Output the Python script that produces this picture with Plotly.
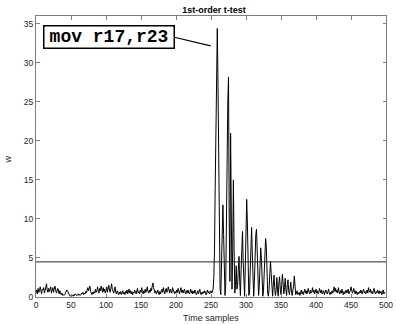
import plotly.graph_objects as go

# ---- data ----
w_values = (
    # 0-19
    [0.5, 0.9, 0.4, 1.1, 0.6, 0.8, 1.3, 0.7, 0.4, 1.0, 0.9, 1.2, 0.5, 0.8, 1.4, 1.7, 0.9, 0.6, 1.1, 0.7] +
    # 20-39
    [1.0, 1.3, 0.5, 0.8, 1.2, 0.6, 0.9, 1.4, 1.0, 0.5, 0.7, 1.1, 0.9, 0.4, 0.8, 0.6, 0.3, 0.5, 0.2, 0.3] +
    # 40-59
    [0.2, 0.3, 0.5, 0.7, 0.9, 0.8, 0.5, 0.3, 0.2, 0.1, 0.2, 0.3, 0.2, 0.1, 0.3, 0.2, 0.4, 0.3, 0.2, 0.3] +
    # 60-79
    [0.2, 0.4, 0.3, 0.2, 0.3, 0.5, 0.4, 0.6, 0.3, 0.5, 0.4, 0.7, 0.5, 0.9, 1.2, 0.8, 1.0, 1.4, 0.7, 0.5] +
    # 80-99
    [0.3, 0.6, 0.4, 0.7, 0.5, 1.0, 0.6, 0.8, 1.3, 0.7, 0.5, 1.1, 0.8, 1.4, 0.9, 0.6, 1.2, 0.7, 1.0, 0.5] +
    # 100-119
    [0.8, 1.3, 0.6, 1.0, 1.5, 0.9, 0.6, 1.1, 1.7, 1.0, 0.7, 0.5, 0.9, 1.3, 0.6, 0.4, 0.8, 0.5, 0.3, 0.6] +
    # 120-139
    [0.4, 0.7, 0.3, 0.5, 0.8, 0.4, 0.6, 0.3, 0.7, 0.5, 0.9, 0.4, 0.6, 1.0, 0.5, 0.8, 0.4, 0.7, 0.3, 0.6] +
    # 140-159
    [0.5, 0.9, 0.6, 0.4, 0.8, 1.1, 0.5, 0.7, 0.4, 0.9, 0.6, 1.2, 0.7, 0.4, 0.8, 0.5, 1.0, 0.6, 0.9, 1.3] +
    # 160-179
    [0.7, 0.5, 0.9, 0.6, 1.1, 0.8, 1.4, 1.8, 1.2, 0.7, 0.5, 0.8, 0.4, 0.6, 0.9, 0.5, 0.3, 0.7, 0.4, 0.8] +
    # 180-199
    [1.0, 0.6, 1.2, 0.7, 0.4, 0.9, 1.1, 0.6, 0.8, 1.3, 0.7, 0.5, 1.0, 0.8, 0.5, 1.2, 0.9, 0.6, 0.4, 0.7] +
    # 200-219
    [0.5, 0.9, 0.6, 1.1, 0.7, 0.4, 0.8, 1.2, 0.6, 0.9, 0.5, 0.7, 1.0, 0.6, 0.4, 0.8, 0.5, 0.9, 0.7, 0.4] +
    # 220-239
    [0.6, 1.0, 0.5, 0.8, 0.4, 0.7, 0.5, 0.9, 0.6, 0.3, 0.5, 0.8, 0.4, 0.6, 1.0, 0.5, 0.3, 0.6, 0.4, 0.7] +
    # 240-259
    [0.5, 0.8, 0.4, 0.3, 0.6, 0.9, 0.5, 0.7, 0.4, 0.6, 0.8, 0.5, 0.7, 1.0, 2.5, 6.0, 14.0, 24.0, 31.0, 34.4] +
    # 260-269
    [27.0, 15.0, 5.0, 1.0, 0.3, 3.5, 8.5, 11.8, 8.0, 2.5] +
    # 270-289
    [0.2, 1.5, 7.0, 17.0, 25.0, 28.2, 10.0, 2.0, 21.0, 9.0, 1.0, 6.0, 15.0, 6.0, 0.5, 1.5, 4.0, 1.0, 1.5, 3.5] +
    # 290-309
    [5.2, 2.0, 0.2, 3.5, 7.0, 8.4, 4.5, 0.5, 0.1, 4.0, 9.0, 12.5, 9.5, 3.0, 0.2, 0.5, 4.5, 7.5, 8.9, 5.5] +
    # 310-329
    [1.0, 0.1, 2.0, 5.5, 8.0, 8.7, 5.0, 1.0, 0.2, 1.5, 4.0, 6.3, 5.0, 1.5, 0.1, 0.8, 3.0, 6.0, 7.5, 6.5] +
    # 330-349
    [3.0, 0.5, 0.1, 1.0, 3.0, 4.6, 3.0, 0.5, 0.1, 1.5, 2.8, 1.2, 0.2, 0.8, 2.5, 1.0, 0.1, 1.8, 2.6, 1.0] +
    # 350-369
    [0.3, 1.5, 2.9, 1.8, 0.4, 1.2, 2.4, 0.9, 0.2, 1.6, 2.2, 0.8, 0.3, 1.0, 1.9, 0.6, 0.2, 0.9, 1.4, 2.7] +
    # 370-389
    [0.9, 0.3, 0.5, 0.8, 0.3, 0.4, 0.6, 0.2, 0.5, 0.9, 0.4, 0.7, 0.3, 0.6, 1.0, 0.5, 0.8, 0.4, 0.7, 1.1] +
    # 390-409
    [0.6, 0.4, 0.9, 0.5, 0.7, 1.2, 0.6, 0.9, 0.4, 0.7, 1.0, 0.5, 0.8, 0.4, 0.6, 1.1, 0.7, 0.5, 0.9, 0.4] +
    # 410-429
    [0.6, 0.8, 0.3, 0.5, 0.9, 0.6, 0.4, 0.7, 1.0, 0.5, 0.3, 0.6, 0.4, 0.8, 0.5, 0.9, 1.3, 0.7, 1.1, 0.6] +
    # 430-449
    [0.9, 0.5, 1.2, 0.7, 0.4, 0.8, 0.5, 1.0, 0.6, 0.3, 0.7, 0.4, 0.6, 0.9, 0.5, 0.7, 1.0, 0.4, 0.6, 0.8] +
    # 450-469
    [1.3, 0.9, 0.5, 0.7, 1.1, 0.6, 0.4, 0.8, 0.5, 0.3, 0.6, 0.4, 0.7, 0.5, 0.9, 0.6, 0.4, 0.8, 1.0, 0.5] +
    # 470-489
    [0.7, 0.4, 0.6, 0.9, 0.5, 1.2, 0.8, 0.6, 1.0, 0.5, 0.7, 0.4, 0.8, 1.1, 0.6, 0.4, 0.7, 0.5, 0.9, 0.6] +
    # 490-499
    [0.4, 0.8, 0.5, 0.7, 0.3, 0.6, 0.9, 0.4, 0.6, 0.5]
)
time_samples = list(range(len(w_values)))
threshold = 4.5
x_ticks = [0, 50, 100, 150, 200, 250, 300, 350, 400, 450, 500]
y_ticks = [0, 5, 10, 15, 20, 25, 30, 35]
title_text = "1st-order t-test"
x_label = "Time samples"
y_label = "w"
note_text = "mov r17,r23"

FONT = "Liberation Sans, Arial, sans-serif"

fig = go.Figure()
fig.add_trace(go.Scatter(x=time_samples, y=w_values, mode="lines",
                         line=dict(color="#000000", width=1), showlegend=False,
                         hoverinfo="skip"))
fig.add_trace(go.Scatter(x=[0, 500], y=[threshold, threshold], mode="lines",
                         line=dict(color="#262626", width=1), showlegend=False,
                         hoverinfo="skip"))

axis_common = dict(showgrid=False, zeroline=False, ticks="inside", ticklen=3.5,
                   tickwidth=1, tickcolor="#7f7f7f", showline=True, linewidth=1,
                   linecolor="#7f7f7f", mirror="ticks", ticklabeloverflow="allow",
                   tickfont=dict(family=FONT, size=8.5, color="#262626"))

fig.update_xaxes(range=[0, 500], tickvals=x_ticks, **axis_common)
fig.update_yaxes(range=[0, 36], tickvals=y_ticks, **axis_common)

fig.update_layout(
    width=396, height=324,
    margin=dict(l=36, r=3, t=16, b=26.5),
    paper_bgcolor="white", plot_bgcolor="white",
    title=dict(text="<b>" + title_text + "</b>", x=214 / 396, xanchor="center",
               y=1 - 9.5 / 324, yanchor="middle", yref="container",
               font=dict(family=FONT, size=9, color="#000000")),
    annotations=[
        dict(text=x_label, xref="paper", yref="paper", x=0.5, y=-0.073,
             xanchor="center", yanchor="middle", showarrow=False,
             font=dict(family=FONT, size=9, color="#262626")),
        dict(text=y_label, xref="paper", yref="paper", x=-0.081, y=0.488,
             xanchor="center", yanchor="middle", showarrow=False, textangle=-90,
             font=dict(family=FONT, size=9, color="#262626")),
        dict(text="<b>" + note_text + "</b>", xref="paper", yref="paper",
             x=(43 - 36) / 356.7, y=(297.5 - 25) / 281.5, xanchor="left", yanchor="top",
             showarrow=False, bordercolor="#000000", borderwidth=1.5, borderpad=1.5,
             width=126, height=18, align="center", valign="middle",
             bgcolor="white",
             font=dict(family="Liberation Mono, Courier New, monospace", size=18, color="#000000")),
    ],
    shapes=[
        dict(type="line", xref="paper", yref="paper",
             x0=(176 - 36) / 356.7, y0=(297.5 - 37) / 281.5,
             x1=(214 - 36) / 356.7, y1=(297.5 - 46) / 281.5,
             line=dict(color="#000000", width=1.2)),
    ],
)

fig.write_html("out.html")
